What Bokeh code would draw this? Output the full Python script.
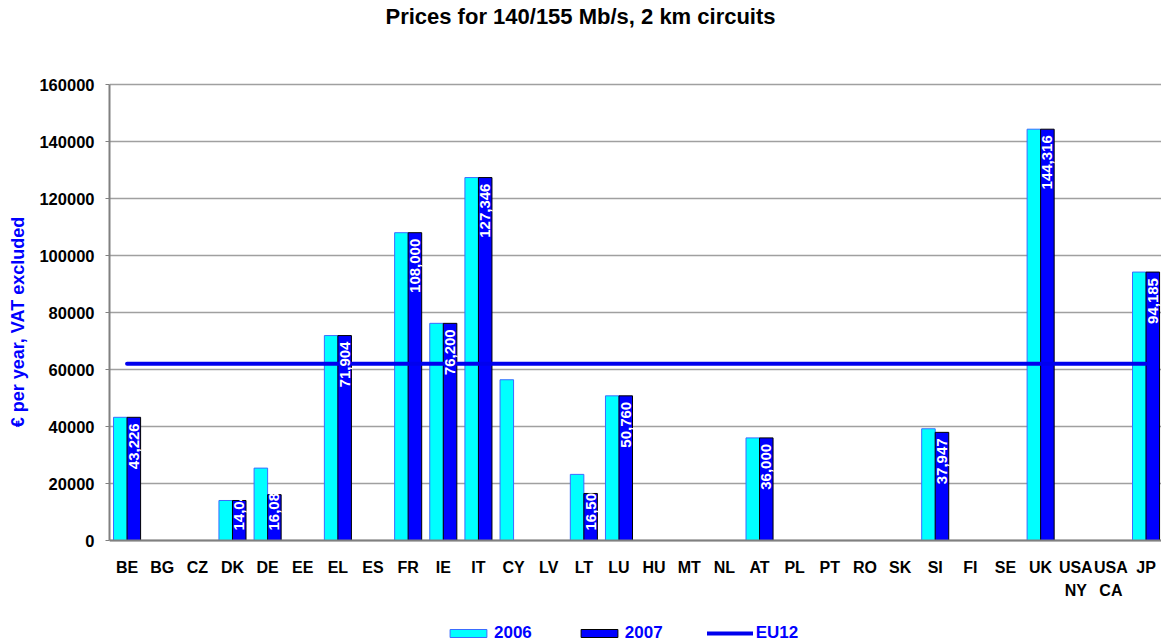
import math
from bokeh.plotting import figure
from bokeh.models import (Range1d, FixedTicker, ColumnDataSource, Legend, LegendItem,
                          NumeralTickFormatter, Label)
from bokeh.embed import file_html
from bokeh.resources import INLINE

# ---------------- data ----------------
categories = ["BE", "BG", "CZ", "DK", "DE", "EE", "EL", "ES", "FR", "IE", "IT", "CY",
              "LV", "LT", "LU", "HU", "MT", "NL", "AT", "PL", "PT", "RO", "SK", "SI",
              "FI", "SE", "UK", "USA\nNY", "USA\nCA", "JP"]
values_2006 = [43226, None, None, 14040, 25400, None, 71904, None, 108000, 76200, 127346, 56400,
               None, 23200, 50760, None, None, None, 36000, None, None, None, None, 39200,
               None, None, 144316, None, None, 94185]
values_2007 = [43226, None, None, 14040, 16080, None, 71904, None, 108000, 76200, 127346, None,
               None, 16503, 50760, None, None, None, 36000, None, None, None, None, 37947,
               None, None, 144316, None, None, 94185]
eu12_value = 62000
y_ticks = [0, 20000, 40000, 60000, 80000, 100000, 120000, 140000, 160000]
title_text = "Prices for 140/155 Mb/s, 2 km circuits"
y_label = "€ per year, VAT excluded"

# ---------------- layout constants (pixels) ----------------
W, H = 1161, 643
FRAME_LEFT = 109
AXIS_TOP_PX, AXIS_ZERO_PX = 84, 540          # figure-pixel rows of 160000 and 0
Y_MAX = y_ticks[-1]
ppu = (AXIS_ZERO_PX - AXIS_TOP_PX) / Y_MAX
y_start = -(H - AXIS_ZERO_PX) / ppu
y_end = Y_MAX + AXIS_TOP_PX / ppu

BAR_W = 0.385
OFF = BAR_W / 2

p = figure(width=W, height=H, output_backend="svg", toolbar_location=None,
           x_range=Range1d(-0.5, 29.44), y_range=Range1d(y_start, y_end),
           min_border_left=FRAME_LEFT, min_border_right=0, min_border_top=0,
           min_border_bottom=0)

p.outline_line_color = None
p.background_fill_color = "white"
p.border_fill_color = "white"

idx = list(range(len(categories)))
src06 = ColumnDataSource(dict(
    x=[i - OFF for i, v in zip(idx, values_2006) if v is not None],
    top=[v for v in values_2006 if v is not None]))
src07 = ColumnDataSource(dict(
    x=[i + OFF for i, v in zip(idx, values_2007) if v is not None],
    top=[v for v in values_2007 if v is not None],
    label=[f"{v:,}" for v in values_2007 if v is not None]))

r06 = p.vbar(x="x", top="top", bottom=0, width=BAR_W, source=src06,
             fill_color="#00ffff", line_color="#3a6cff", line_width=1)
r07 = p.vbar(x="x", top="top", bottom=0, width=BAR_W, source=src07,
             fill_color="#0000ff", line_color="black", line_width=1)

r_eu = p.line(x=[idx[0], idx[-1]], y=[eu12_value, eu12_value], line_color="#0000ee",
              line_width=4, line_cap="round")

# data labels on the 2007 bars
tall = [i for i, v in enumerate(src07.data["top"]) if v >= 30000]
short = [i for i, v in enumerate(src07.data["top"]) if v < 30000]
lab_tall = ColumnDataSource(dict(x=[src07.data["x"][i] for i in tall],
                                 y=[src07.data["top"][i] for i in tall],
                                 t=[src07.data["label"][i] for i in tall]))
lab_short = ColumnDataSource(dict(x=[src07.data["x"][i] for i in short],
                                  y=[0 for i in short],
                                  t=[src07.data["label"][i] for i in short]))
p.text(x="x", y="y", text="t", source=lab_tall, angle=math.pi / 2,
       text_align="right", text_baseline="middle", y_offset=6,
       text_color="white", text_font_size="15px", text_font_style="bold",
       text_font={"value": "Liberation Sans"})
p.text(x="x", y="y", text="t", source=lab_short, angle=math.pi / 2,
       text_align="left", text_baseline="middle", y_offset=-10,
       text_color="white", text_font_size="15px", text_font_style="bold",
       text_font={"value": "Liberation Sans"})

# ---------------- axes ----------------
xa = p.xaxis[0]
xa.fixed_location = 0
xa.ticker = FixedTicker(ticks=idx)
xa.major_label_overrides = {i: c for i, c in zip(idx, categories)}
xa.major_label_text_font = "Liberation Sans"
xa.major_label_text_font_size = "16px"
xa.major_label_text_font_style = "bold"
xa.major_label_text_color = "black"
xa.major_label_text_line_height = 1.4
xa.major_tick_line_color = None
xa.minor_tick_line_color = None
xa.major_label_standoff = 12
xa.axis_line_color = "#808080"
xa.axis_line_width = 2

ya = p.yaxis[0]
ya.bounds = (0, Y_MAX)
ya.ticker = FixedTicker(ticks=y_ticks)
ya.formatter = NumeralTickFormatter(format="0")
ya.major_label_text_font = "Liberation Sans"
ya.major_label_text_font_size = "16.5px"
ya.major_label_text_font_style = "bold"
ya.major_label_text_color = "black"
ya.major_tick_out = 4
ya.major_tick_in = 0
ya.major_tick_line_color = "#808080"
ya.minor_tick_line_color = None
ya.major_label_standoff = 11
ya.axis_line_color = "#808080"
ya.axis_line_width = 2
ya.axis_label = y_label
ya.axis_label_text_font = "Liberation Sans"
ya.axis_label_text_font_size = "18px"
ya.axis_label_text_font_style = "bold"
ya.axis_label_text_color = "#0000ff"
ya.axis_label_standoff = 8

p.xgrid.grid_line_color = None
p.ygrid.grid_line_color = "#a0a0a0"
p.ygrid.grid_line_width = 1.5

# ---------------- title ----------------
p.add_layout(Label(x=471, y=H - 16, x_units="screen", y_units="screen", text=title_text,
                   text_align="center", text_baseline="middle",
                   text_font="Liberation Sans", text_font_size="22px",
                   text_font_style="bold", text_color="black"))

# ---------------- legend ----------------
legend = Legend(items=[LegendItem(label="2006", renderers=[r06]),
                       LegendItem(label="2007", renderers=[r07]),
                       LegendItem(label="EU12", renderers=[r_eu])],
                orientation="horizontal", location=(336, 0),
                glyph_width=46, glyph_height=10, spacing=44, label_standoff=3,
                label_text_font="Liberation Sans", label_text_font_size="17px",
                label_text_font_style="bold", label_text_color="#0000ff",
                padding=0, margin=0, border_line_color=None,
                background_fill_alpha=0)
p.add_layout(legend)

open("out.html", "w").write(file_html(p, INLINE))
